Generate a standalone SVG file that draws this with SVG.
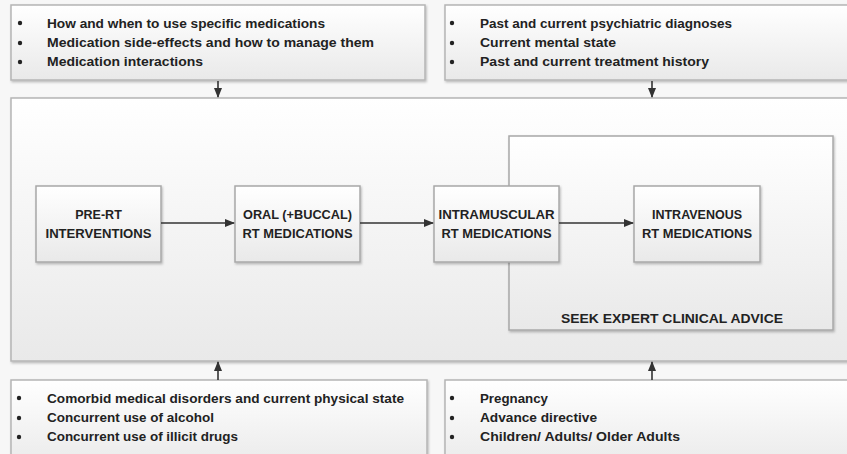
<svg xmlns="http://www.w3.org/2000/svg" width="847" height="454" viewBox="0 0 847 454">
<defs>
<linearGradient id="g" x1="0" y1="0" x2="0" y2="1">
<stop offset="0" stop-color="#ffffff"/>
<stop offset="1" stop-color="#e9e9e9"/>
</linearGradient>
<filter id="sh" x="-5%" y="-5%" width="110%" height="120%">
<feDropShadow dx="1" dy="1.5" stdDeviation="1" flood-color="#000" flood-opacity="0.25"/>
</filter>
<marker id="ah" markerWidth="10" markerHeight="10" refX="9" refY="5" orient="auto" markerUnits="userSpaceOnUse">
<path d="M0,1 L10,5 L0,9 Z" fill="#333"/>
</marker>
</defs>
<style>
.box{fill:url(#g);stroke:#b5b5b5;stroke-width:1.5;filter:url(#sh)}
.node{fill:url(#g);stroke:#a8a8a8;stroke-width:1.5;filter:url(#sh)}
.t{font-family:"Liberation Sans",Arial,sans-serif;font-weight:bold;fill:#222}
.lst{font-size:13.5px}
.lbl{font-size:12.5px;text-anchor:middle}
.conn{stroke:#333;stroke-width:1.6;fill:none;marker-end:url(#ah)}
</style>
<rect width="847" height="454" fill="#f7f7f7"/>

<g id="top-left">
<rect class="box" x="11" y="5" width="414" height="75"/>
<g class="t lst">
<circle cx="20" cy="23" r="2.2" fill="#222"/><circle cx="20" cy="43" r="2.2" fill="#222"/><circle cx="20" cy="62" r="2.2" fill="#222"/>
<text x="47" y="28" textLength="278" lengthAdjust="spacingAndGlyphs">How and when to use specific medications</text>
<text x="47" y="47" textLength="327" lengthAdjust="spacingAndGlyphs">Medication side-effects and how to manage them</text>
<text x="47" y="66" textLength="156" lengthAdjust="spacingAndGlyphs">Medication interactions</text>
</g>
</g>

<g id="top-right">
<rect class="box" x="445" y="5" width="410" height="75"/>
<g class="t lst">
<circle cx="452" cy="23" r="2.2" fill="#222"/><circle cx="452" cy="43" r="2.2" fill="#222"/><circle cx="452" cy="62" r="2.2" fill="#222"/>
<text x="480" y="28" textLength="252" lengthAdjust="spacingAndGlyphs">Past and current psychiatric diagnoses</text>
<text x="480" y="47" textLength="136" lengthAdjust="spacingAndGlyphs">Current mental state</text>
<text x="480" y="66" textLength="229" lengthAdjust="spacingAndGlyphs">Past and current treatment history</text>
</g>
</g>

<g id="main">
<rect class="box" x="11" y="98" width="845" height="263"/>
</g>

<g id="seek-expert">
<rect class="node" x="509" y="136" width="324" height="194"/>
<text class="t lbl" x="672" y="323" style="font-size:13.5px" textLength="222" lengthAdjust="spacingAndGlyphs">SEEK EXPERT CLINICAL ADVICE</text>
</g>

<g id="pre-rt">
<rect class="node" x="36" y="186" width="125" height="76"/>
<text class="t lbl" x="98.5" y="219">PRE-RT</text>
<text class="t lbl" x="98.5" y="238" textLength="106" lengthAdjust="spacingAndGlyphs">INTERVENTIONS</text>
</g>

<g id="oral">
<rect class="node" x="235" y="186" width="125" height="76"/>
<text class="t lbl" x="297.5" y="219" textLength="109" lengthAdjust="spacingAndGlyphs">ORAL (+BUCCAL)</text>
<text class="t lbl" x="297.5" y="238" textLength="110" lengthAdjust="spacingAndGlyphs">RT MEDICATIONS</text>
</g>

<g id="intramuscular">
<rect class="node" x="434" y="186" width="125" height="76"/>
<text class="t lbl" x="496.5" y="219" textLength="116" lengthAdjust="spacingAndGlyphs">INTRAMUSCULAR</text>
<text class="t lbl" x="496.5" y="238" textLength="110" lengthAdjust="spacingAndGlyphs">RT MEDICATIONS</text>
</g>

<g id="intravenous">
<rect class="node" x="634" y="186" width="126" height="76"/>
<text class="t lbl" x="697" y="219" textLength="90" lengthAdjust="spacingAndGlyphs">INTRAVENOUS</text>
<text class="t lbl" x="697" y="238" textLength="110" lengthAdjust="spacingAndGlyphs">RT MEDICATIONS</text>
</g>

<g id="bottom-left">
<rect class="box" x="11" y="380" width="416" height="90"/>
<g class="t lst">
<circle cx="19" cy="398" r="2.2" fill="#222"/><circle cx="19" cy="418" r="2.2" fill="#222"/><circle cx="19" cy="437" r="2.2" fill="#222"/>
<text x="47" y="403" textLength="357" lengthAdjust="spacingAndGlyphs">Comorbid medical disorders and current physical state</text>
<text x="47" y="422" textLength="167" lengthAdjust="spacingAndGlyphs">Concurrent use of alcohol</text>
<text x="47" y="441" textLength="191" lengthAdjust="spacingAndGlyphs">Concurrent use of illicit drugs</text>
</g>
</g>

<g id="bottom-right">
<rect class="box" x="445" y="380" width="410" height="90"/>
<g class="t lst">
<circle cx="452" cy="398" r="2.2" fill="#222"/><circle cx="452" cy="418" r="2.2" fill="#222"/><circle cx="452" cy="437" r="2.2" fill="#222"/>
<text x="480" y="403" textLength="68" lengthAdjust="spacingAndGlyphs">Pregnancy</text>
<text x="480" y="422" textLength="117" lengthAdjust="spacingAndGlyphs">Advance directive</text>
<text x="480" y="441" textLength="200" lengthAdjust="spacingAndGlyphs">Children/ Adults/ Older Adults</text>
</g>
</g>

<g id="connectors">
<line class="conn" x1="218" y1="81" x2="218" y2="97"/>
<line class="conn" x1="652" y1="81" x2="652" y2="97"/>
<line class="conn" x1="218" y1="380" x2="218" y2="362"/>
<line class="conn" x1="652" y1="380" x2="652" y2="362"/>
<line class="conn" x1="161" y1="223" x2="234" y2="223"/>
<line class="conn" x1="360" y1="223" x2="433" y2="223"/>
<line class="conn" x1="559" y1="223" x2="633" y2="223"/>
</g>
</svg>
